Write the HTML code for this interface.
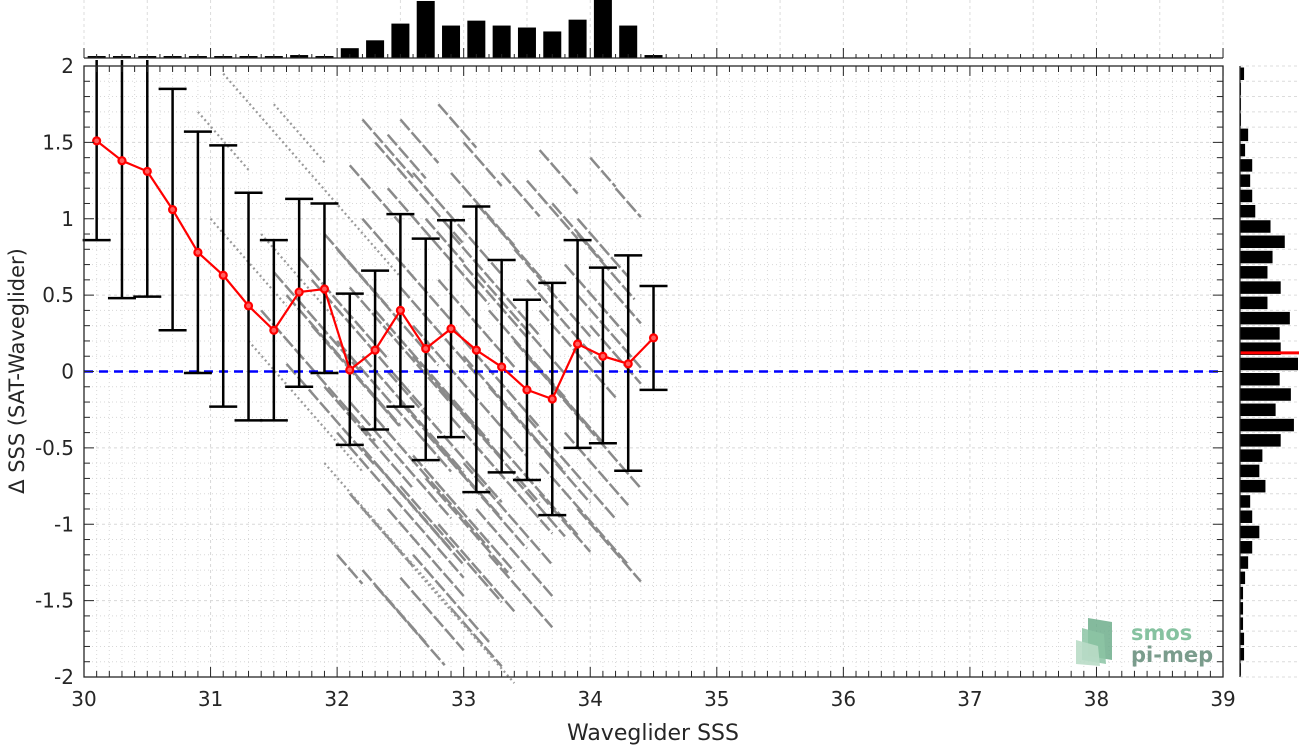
<!DOCTYPE html>
<html><head><meta charset="utf-8">
<style>
html,body{margin:0;padding:0;background:#fff;}
svg{display:block;font-family:"DejaVu Sans","Liberation Sans",sans-serif;}
</style></head>
<body>
<svg id="chart" width="1299" height="747" viewBox="0 0 1299 747" xmlns="http://www.w3.org/2000/svg">
<g id="grid"></g>
<g id="scatter"></g>
<line x1="84" y1="371.5" x2="1223" y2="371.5" stroke="#0000ff" stroke-width="2.5" stroke-dasharray="9,6"/>
<g id="errbars"></g>
<g id="meanline"></g>
<g id="axes"></g>
<g id="tophist"></g>
<g id="righthist"></g>
<g>
  <polygon points="1088,618 1112,622 1112,660 1088,656" fill="#6fae8c" opacity="0.85"/>
  <polygon points="1082,628 1104,634 1106,664 1082,660" fill="#8cc4a4" opacity="0.85"/>
  <polygon points="1076,640 1098,646 1100,666 1076,664" fill="#b9dcc7" opacity="0.9"/>
  <text x="1131" y="640" font-size="21" font-weight="bold" fill="#86c2a0">smos</text>
  <text x="1131" y="662" font-size="21" font-weight="bold" fill="#7a9c8c">pi-mep</text>
</g>
<text x="653" y="740" font-size="22" text-anchor="middle" fill="#262626">Waveglider SSS</text>
<text x="0" y="0" font-size="21" text-anchor="middle" fill="#262626" transform="translate(24,371) rotate(-90)">Δ SSS (SAT-Waveglider)</text>
</svg>
<script>
const binCenters=[30.1,30.3,30.5,30.7,30.9,31.1,31.3,31.5,31.7,31.9,32.1,32.3,32.5,32.7,32.9,33.1,33.3,33.5,33.7,33.9,34.1,34.3,34.5];
const meanVals=[1.51,1.38,1.31,1.06,0.78,0.63,0.43,0.27,0.52,0.54,0.01,0.14,0.40,0.15,0.28,0.14,0.03,-0.12,-0.18,0.18,0.10,0.05,0.22];
const lowVals=[0.86,0.48,0.49,0.27,-0.01,-0.23,-0.32,-0.32,-0.10,-0.01,-0.48,-0.38,-0.23,-0.58,-0.43,-0.79,-0.66,-0.71,-0.94,-0.50,-0.47,-0.65,-0.12];
const highVals=[2.2,2.2,2.2,1.85,1.57,1.48,1.17,0.86,1.13,1.10,0.51,0.66,1.03,0.87,0.99,1.08,0.73,0.47,0.58,0.86,0.68,0.76,0.56];
const topHistCounts=[2,2,2,2,2,2,2,2,3,2,10,18,35,58,33,38,33,31,27,39,59,33,3];
const rightHistCounts=[4,1,1,1,8,5,12,10,12,15,30,44,32,27,40,27,49,39,40,57,39,50,35,53,40,22,19,25,10,12,19,12,8,5,3,3,3,4,4,1];
const medianDiff=0.125;
const xTicks=[30,31,32,33,34,35,36,37,38,39];
const yTicks=[2,1.5,1,0.5,0,-0.5,-1,-1.5,-2];
const yTickLabels=["2","1.5","1","0.5","0","-0.5","-1","-1.5","-2"];
const streaks=[
[32.2,1.65,32.6],[32.3,1.5,33.0],[32.5,1.65,32.8],[32.8,1.75,33.1],[33.0,1.5,33.3],[33.3,1.3,33.6],[33.5,1.25,33.9],[33.7,1.1,34.1],[33.9,1.0,34.3],[34.0,1.4,34.2],[32.6,1.3,33.3],[32.4,1.2,33.2],[33.1,1.1,33.7],[32.9,0.9,33.6],[32.2,1.0,32.9],[32.0,0.8,32.8],[33.4,0.8,34.0],[33.8,0.7,34.3],[32.1,1.35,32.5],
[31.8,0.6,32.7],[31.6,0.5,32.5],[31.4,0.4,32.3],[32.3,0.4,33.2],[32.6,0.3,33.5],[32.9,0.3,33.6],[33.2,0.4,33.8],[33.6,0.4,34.2],[34.0,0.3,34.4],[32.0,0.2,32.9],[32.4,0.0,33.3],[32.8,-0.1,33.6],[33.2,-0.1,34.0],[33.7,-0.1,34.4],[31.9,-0.1,32.6],[32.3,-0.3,33.2],[32.7,-0.4,33.5],[33.3,-0.5,33.9],[33.8,-0.4,34.3],[31.6,0.05,32.3],
[32.0,-0.4,33.0],[32.3,-0.6,33.0],[32.5,-0.75,33.3],[32.7,-0.7,33.35],[33.1,-0.9,33.7],[33.4,-0.7,33.8],[33.9,-0.9,34.4],[32.2,-1.3,32.7],[32.0,-1.2,32.2],[32.3,-1.4,32.85],[32.5,-1.35,33.0],[32.6,-1.2,33.2],[32.9,-1.55,33.3],[33.6,-0.8,34.0],
[33.9,0.9,34.35],[34.1,0.6,34.4],[33.0,0.7,33.5],[32.7,1.0,33.0],[33.5,0.1,34.0],
[31.7,0.75,32.4],[31.5,0.65,32.2],[31.9,0.9,32.4],[32.1,0.55,32.9],[32.5,0.55,33.1],[32.8,0.6,33.4],[33.1,0.65,33.8],[33.5,0.6,34.1],[33.9,0.5,34.4],[32.2,0.1,33.0],[32.6,0.1,33.3],[33.0,0.1,33.8],[33.4,0.2,34.1],[31.8,0.3,32.5],[32.1,-0.2,32.9],[32.5,-0.2,33.3],[32.9,-0.3,33.7],[33.5,-0.3,34.2],[32.2,-0.5,32.9],[32.6,-0.55,33.4],[33.0,-0.6,33.7],[33.6,-0.6,34.3],[32.4,-0.9,33.0],[32.8,-1.0,33.4],[33.2,-1.2,33.7],[32.1,-0.8,32.6],[34.2,1.2,34.4],[33.6,1.45,33.9],[32.9,1.3,33.4],[32.4,1.55,32.7]
];
const faint=[[31.1,1.95,32.5],[30.9,1.7,31.3],[31.5,1.75,31.9],[31.3,0.2,32.2],[31.9,-0.6,33.0],[32.2,-0.9,33.4],[31.0,1.0,31.6],[31.4,0.9,32.0]];
const SLOPE=-0.95;
const NS="http://www.w3.org/2000/svg";
const X=v=>84+(v-30)*126.56;
const Y=v=>371.5-v*152.75;
function mk(tag,attrs,parent){const e=document.createElementNS(NS,tag);for(const k in attrs)e.setAttribute(k,attrs[k]);parent.appendChild(e);return e;}
const grid=document.getElementById('grid');
for(let i=0;i<=90;i++){const v=30+i*0.1;const l=mk('line',{x1:X(v),x2:X(v),y1:66,y2:677,stroke:'#d8d8d8','stroke-width':1,'stroke-dasharray':i%10==0?'3,3':'1,3'},grid);

}
for(let i=0;i<=40;i++){const v=-2+i*0.1;const l=mk('line',{x1:84,x2:1223,y1:Y(v),y2:Y(v),stroke:'#d8d8d8','stroke-width':1,'stroke-dasharray':i%5==0?'3,3':'1,3'},grid);

}
const sc=document.getElementById('scatter');
streaks.forEach(s=>{const y1=s[1]+SLOPE*(s[2]-s[0]);const l=mk('line',{x1:X(s[0]),y1:Y(s[1]),x2:X(s[2]),y2:Y(y1),stroke:'#8a8a8a','stroke-width':2.5,'stroke-dasharray':'14,3'},sc);

});
faint.forEach(s=>{const y1=s[1]+SLOPE*(s[2]-s[0]);const l=mk('line',{x1:X(s[0]),y1:Y(s[1]),x2:X(s[2]),y2:Y(y1),stroke:'#9a9a9a','stroke-width':2.2,'stroke-dasharray':'2,3'},sc);

});
const eb=document.getElementById('errbars');
binCenters.forEach((c,i)=>{const x=X(c);const yt=Math.max(Y(highVals[i]),60);const yb=Y(lowVals[i]);
const g=mk('g',{},eb);


mk('line',{x1:x,x2:x,y1:yt,y2:yb,stroke:'#000','stroke-width':2.5},g);
if(highVals[i]<=2)mk('line',{x1:x-14,x2:x+14,y1:yt,y2:yt,stroke:'#000','stroke-width':2.5},g);
mk('line',{x1:x-14,x2:x+14,y1:yb,y2:yb,stroke:'#000','stroke-width':2.5},g);});
const ml=document.getElementById('meanline');
const pl=mk('polyline',{points:binCenters.map((c,i)=>X(c)+','+Y(meanVals[i])).join(' '),fill:'none',stroke:'#ff0000','stroke-width':2.2},ml);


binCenters.forEach((c,i)=>{const p=mk('circle',{cx:X(c),cy:Y(meanVals[i]),r:3.5,fill:'#ff6060',stroke:'#ff0000','stroke-width':2.2},ml);

});
const ax=document.getElementById('axes');
mk('rect',{x:84,y:66,width:1139,height:611,fill:'none',stroke:'#262626','stroke-width':1.3},ax);
for(let i=0;i<=90;i++){const v=30+i*0.1;const len=i%10==0?10:6;
mk('line',{x1:X(v),x2:X(v),y1:677,y2:677-len,stroke:'#262626'},ax);
mk('line',{x1:X(v),x2:X(v),y1:66,y2:66+len,stroke:'#262626'},ax);}
for(let i=0;i<=40;i++){const v=-2+i*0.1;const len=i%5==0?10:6;
mk('line',{x1:84,x2:84+len,y1:Y(v),y2:Y(v),stroke:'#262626'},ax);
mk('line',{x1:1223,x2:1223-len,y1:Y(v),y2:Y(v),stroke:'#262626'},ax);}
xTicks.forEach(t=>{const e=mk('text',{x:X(t),y:706,'font-size':20,'text-anchor':'middle',fill:'#262626'},ax);e.textContent=t;

});
yTicks.forEach((t,i)=>{const e=mk('text',{x:74,y:Y(t)+7,'font-size':20,'text-anchor':'end',fill:'#262626'},ax);e.textContent=yTickLabels[i];

});
const th=document.getElementById('tophist');
for(let i=0;i<=90;i+=5){mk('line',{x1:X(30+i*0.1),x2:X(30+i*0.1),y1:0,y2:58,stroke:'#dcdcdc','stroke-dasharray':'3,3'},th);}
const tmax=Math.max(...topHistCounts);
binCenters.forEach((c,i)=>{const h=topHistCounts[i]/tmax*58;const r=mk('rect',{x:X(c)-9,y:58-h,width:18,height:h,fill:'#000'},th);

});
mk('line',{x1:84,x2:1223,y1:58,y2:58,stroke:'#262626','stroke-width':1.3},th);
mk('line',{x1:84,x2:84,y1:48,y2:58,stroke:'#262626'},th);
mk('line',{x1:1223,x2:1223,y1:48,y2:58,stroke:'#262626'},th);
for(let i=0;i<=90;i++){const v=30+i*0.1;const len=i%10==0?10:4;mk('line',{x1:X(v),x2:X(v),y1:58,y2:58-len,stroke:'#262626'},th);}
const rh=document.getElementById('righthist');
for(let i=0;i<=40;i++){mk('line',{x1:1240,x2:1299,y1:Y(-2+i*0.1),y2:Y(-2+i*0.1),stroke:'#dcdcdc','stroke-dasharray':'3,3'},rh);}
const rmax=Math.max(...rightHistCounts);
rightHistCounts.forEach((c,i)=>{const top=2-i*0.1;const w=c/rmax*58;const r=mk('rect',{x:1240,y:Y(top)+1.5,width:w,height:12.5,fill:'#000'},rh);

});
const red=mk('line',{x1:1240,x2:1299,y1:Y(medianDiff)+0.5,y2:Y(medianDiff)+0.5,stroke:'#ff0000','stroke-width':3},rh);


mk('line',{x1:1240,x2:1240,y1:66,y2:677,stroke:'#262626','stroke-width':1.3},rh);
</script>
</body></html>
